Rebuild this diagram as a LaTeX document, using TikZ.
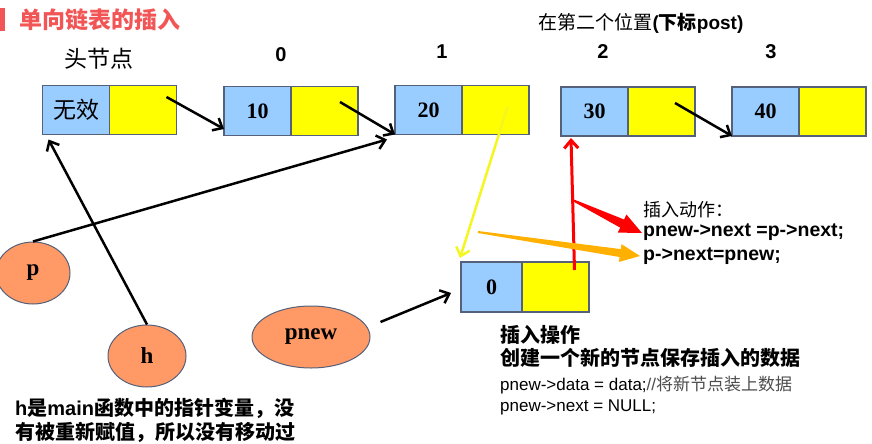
\documentclass[tikz,border=0pt]{standalone}
\usepackage{fontspec}
\setmainfont{Liberation Sans}
\newfontfamily\zh{Noto Sans CJK SC}
\newfontfamily\tms{Liberation Serif}
\usetikzlibrary{arrows.meta,positioning,calc,shapes.geometric}
\definecolor{cellblue}{HTML}{99CCFF}
\definecolor{cellyel}{HTML}{FFFF00}
\definecolor{cellline}{HTML}{55607A}
\definecolor{varfill}{HTML}{FF9966}
\definecolor{titlered}{HTML}{F25555}
\definecolor{insorange}{HTML}{FFB000}
\definecolor{linkyel}{HTML}{F5F520}

\begin{document}
\begin{tikzpicture}[
  x=1pt, y=-1pt,
  datacell/.style={draw=cellline, line width=1.5pt, fill=cellblue, outer sep=0pt,
    minimum width=67pt, minimum height=49pt, inner sep=0pt,
    font=\tms\bfseries\fontsize{22}{22}\selectfont},
  nextcell/.style={draw=cellline, line width=1.5pt, fill=cellyel, outer sep=0pt,
    minimum width=67pt, minimum height=49pt, inner sep=0pt, anchor=west},
  var/.style={ellipse, draw=cellline, line width=1pt, fill=varfill, inner sep=0pt,
    minimum height=62pt, font=\tms\bfseries\fontsize{23}{23}\selectfont},
  idx/.style={font=\bfseries\fontsize{20}{20}\selectfont},
  arr/.style={-{Straight Barb[length=8pt,width=14pt]}, line width=2.5pt},
  note/.style={align=left, anchor=west, inner sep=0pt}
]
\useasboundingbox (0,0) rectangle (872,444);

% ── Title ────────────────────────────────────────────────────────────────
\node[fill=titlered, minimum width=5pt, minimum height=23pt, inner sep=0pt,
  anchor=west] (bar) at (0,20) {};
\node[anchor=west, inner sep=0pt, text=titlered,
  font=\zh\bfseries\fontsize{23}{23}\selectfont] (title) at (19,20) {单向链表的插入};

% ── Labels above the list ────────────────────────────────────────────────
\node[font=\zh\fontsize{23}{23}\selectfont] (headlbl) at (99,59) {头节点};
\node[idx] (i0) at (281,55) {0};
\node[idx] (i1) at (442,52) {1};
\node[idx] (i2) at (603,52) {2};
\node[idx] (i3) at (771,52) {3};
\node[font=\fontsize{19}{19}\selectfont] (pos) at (641,23)
  {{\zh 在第二个位置}\textbf{(}{\zh\bfseries 下标}\textbf{post)}};

% ── The list ─────────────────────────────────────────────────────────────
\node[datacell, font=\zh\fontsize{23}{23}\selectfont] (h0d) at (76,110) {无效};
\node[nextcell] (h0n) at (h0d.east) {};
\node[datacell] (n1d) at (257.5,111) {10};
\node[nextcell] (n1n) at (n1d.east) {};
\node[datacell] (n2d) at (428.5,110) {20};
\node[nextcell] (n2n) at (n2d.east) {};
\node[datacell] (n3d) at (594.5,111.5) {30};
\node[nextcell] (n3n) at (n3d.east) {};
\node[datacell] (n4d) at (765.5,111.5) {40};
\node[nextcell] (n4n) at (n4d.east) {};

\draw[arr] ($(h0n.center)+(23.5,-13)$) -- ($(n1d.west)+(0,18)$);
\draw[arr] ($(n1n.center)+(15.5,-9)$) -- (n2d.south west);
\draw[arr] ($(n3n.center)+(13.5,-8.5)$) -- (n4d.south west);

% ── The new node ─────────────────────────────────────────────────────────
\node[datacell, minimum width=61pt, minimum height=50pt] (nd) at (491.5,287) {0};
\node[nextcell, minimum height=50pt] (nn) at (nd.east) {};

% ── Pointer variables ────────────────────────────────────────────────────
\node[var, minimum width=74pt] (p) at (33,273) {p};
\node[var, minimum width=78pt] (h) at (147,356) {h};
\node[var, minimum width=118pt] (pnew) at (311,337) {pnew};

\draw[arr] (p.north) -- ($(n2d.south west)+(-8,5)$);
\draw[arr] (h.north) -- ($(h0d.south west)+(6,5)$);
\draw[arr] ($(pnew.east)+(10,-15)$) -- ($(nd.west)+(-10,6)$);

% ── Insertion steps ──────────────────────────────────────────────────────
\node[note, font=\zh\fontsize{18}{18}\selectfont] (act1) at (643,210) {插入动作：};
\node[note, font=\bfseries\fontsize{19.5}{19.5}\selectfont] (act2) at (643,232)
  {pnew->next =p->next;};
\node[note, font=\bfseries\fontsize{19.5}{19.5}\selectfont] (act3) at (643,256)
  {p->next=pnew;};

\draw[linkyel, arr] ($(n2n.center)+(12,-3)$) -- ($(nd.north west)+(-1,-4)$);
\coordinate (rfrom) at ($(nn.center)+(19,-17)$);
\coordinate (rto) at ($(n3d.south west)+(10,2)$);
\draw[red, arr, line width=3pt] (rfrom) -- (rto);

% tapered arrows into the two statements
\coordinate (rmid) at ($(rfrom)!0.53!(rto)$);
\coordinate (rtip) at ($(act2.west)+(-1,1)$);
\coordinate (rbase) at ($(rtip)!22pt!(rmid)$);
\fill[red] ($(rmid)!1pt!90:(rtip)$) -- ($(rbase)!4.5pt!90:(rtip)$)
  -- ($(rbase)!10pt!90:(rtip)$) -- (rtip) -- ($(rbase)!10pt!-90:(rtip)$)
  -- ($(rbase)!4.5pt!-90:(rtip)$) -- ($(rmid)!1pt!-90:(rtip)$) -- cycle;
\coordinate (oin) at (478,232);
\coordinate (otip) at ($(act3.west)+(-3,0)$);
\coordinate (obase) at ($(otip)!20pt!(oin)$);
\fill[insorange] ($(oin)!1pt!90:(otip)$) -- ($(obase)!4pt!90:(otip)$)
  -- ($(obase)!9pt!90:(otip)$) -- (otip) -- ($(obase)!9pt!-90:(otip)$)
  -- ($(obase)!4pt!-90:(otip)$) -- ($(oin)!1pt!-90:(otip)$) -- cycle;

% ── Notes ────────────────────────────────────────────────────────────────
\node[note, font=\zh\bfseries\fontsize{20}{20}\selectfont] (mk1) at (500,335) {插入操作};
\node[note, font=\zh\bfseries\fontsize{20}{20}\selectfont] (mk2) at (500,358)
  {创建一个新的节点保存插入的数据};
\node[note, font=\fontsize{17}{17}\selectfont] (mk3) at (500,385)
  {pnew->data = data;{\color{black!70}//\zh 将新节点装上数据}};
\node[note, font=\fontsize{17}{17}\selectfont] (mk4) at (500,407) {pnew->next = NULL;};

\node[note, font=\bfseries\fontsize{20}{20}\selectfont] (hn1) at (15,408)
  {h{\zh 是}main{\zh 函数中的指针变量，没}};
\node[note, font=\bfseries\fontsize{20}{20}\selectfont] (hn2) at (15,432)
  {{\zh 有被重新赋值，所以没有移动过}};

\end{tikzpicture}
\end{document}
